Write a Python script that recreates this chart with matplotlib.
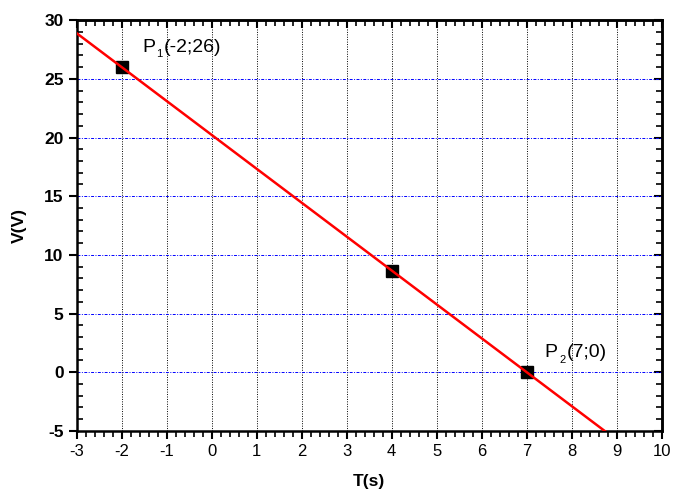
import numpy as np
import matplotlib.pyplot as plt
from matplotlib.ticker import MultipleLocator
from matplotlib.transforms import offset_copy

plt.rcParams['font.family'] = ['Liberation Sans', 'DejaVu Sans']
plt.rcParams['axes.unicode_minus'] = False

# measured points
t_pts = [-2, 4, 7]
v_pts = [26, 8.6, 0]

# fitted line through P1 and P2
line_t = [-3, 10]
p1 = (-2, 26)
p2 = (7, 0)
slope = (p2[1] - p1[1]) / (p2[0] - p1[0])
line_v = [p1[1] + slope * (t - p1[0]) for t in line_t]

# point labels: (x, y, subscript, rest)
labels = [(-1.55, 27.3, '1', '(-2;26)'), (7.4, 1.3, '2', '(7;0)')]

fig = plt.figure(figsize=(6.85, 4.93), dpi=100)
ax = fig.add_axes([0.112, 0.126, 0.854, 0.833])

for x in range(-2, 10):
    ax.axvline(x, color='black', lw=0.7, ls=(0, (1, 1.5)), zorder=1)
for y in range(0, 30, 5):
    ax.axhline(y, color='blue', lw=0.7, ls=(0, (3, 1.5, 1, 1.5)), zorder=1)

ax.plot(line_t, line_v, color='red', lw=1.8, zorder=3)
ax.plot(t_pts, v_pts, 's', color='black', ms=9, zorder=2)

for lx, ly, sub, rest in labels:
    ax.text(lx, ly, 'P', fontsize=14)
    tr = offset_copy(ax.transData, fig=fig, x=10.5, y=-4, units='points')
    ax.text(lx, ly, sub, fontsize=8, transform=tr)
    tr = offset_copy(ax.transData, fig=fig, x=16, y=0, units='points')
    ax.text(lx, ly, rest, fontsize=14, transform=tr)

ax.set_xlim(-3, 10)
ax.set_ylim(-5, 30)
ax.xaxis.set_major_locator(MultipleLocator(1))
ax.xaxis.set_minor_locator(MultipleLocator(0.2))
ax.yaxis.set_major_locator(MultipleLocator(5))
ax.yaxis.set_minor_locator(MultipleLocator(1))

for s in ax.spines.values():
    s.set_linewidth(1.8)

ax.tick_params(which='major', direction='out', length=6, width=1.5, labelsize=12)
ax.tick_params(which='minor', direction='out', length=4, width=1.2)
ax.tick_params(axis='y', which='minor', direction='in')
ax.tick_params(axis='y', which='major', labelsize=12.5)
ax.tick_params(which='both', top=False, right=False)

for lab in ax.get_yticklabels():
    lab.set_fontweight('bold')

ax.set_xlabel('T(s)', fontsize=12.5, fontweight='bold', labelpad=11)
ax.set_ylabel('V(V)', fontsize=12.5, fontweight='bold', labelpad=12)

# top and right ticks point inward
ax2 = ax.secondary_xaxis('top')
ax2.xaxis.set_major_locator(MultipleLocator(1))
ax2.xaxis.set_minor_locator(MultipleLocator(0.2))
ax2.tick_params(which='major', direction='in', length=6, width=1.5, labeltop=False)
ax2.tick_params(which='minor', direction='in', length=4, width=1.2)
ax2.spines['top'].set_linewidth(1.8)
ax3 = ax.secondary_yaxis('right')
ax3.yaxis.set_major_locator(MultipleLocator(5))
ax3.yaxis.set_minor_locator(MultipleLocator(1))
ax3.tick_params(which='major', direction='in', length=6, width=1.5, labelright=False)
ax3.tick_params(which='minor', direction='in', length=4, width=1.2)
ax3.spines['right'].set_linewidth(1.8)

fig.savefig('out.png', dpi=100)
